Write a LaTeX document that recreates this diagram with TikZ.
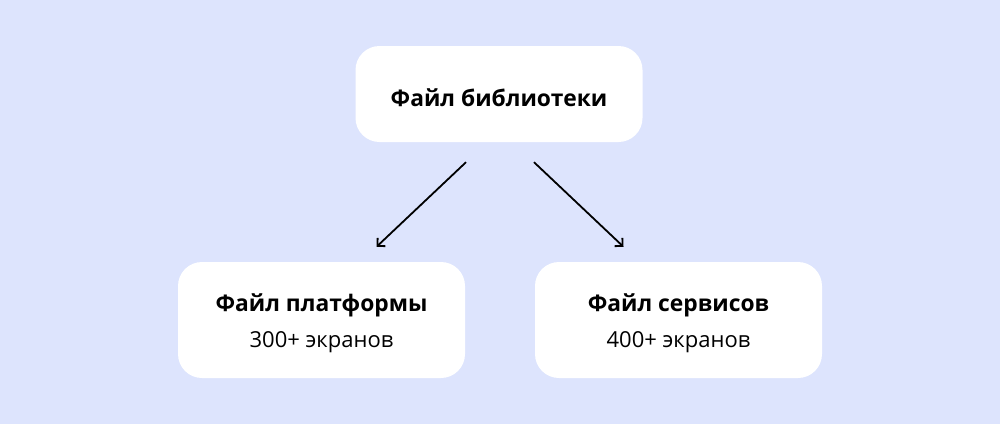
\documentclass[tikz,border=0pt]{standalone}
\usepackage{fontspec}
\setmainfont{Open Sans}
\usetikzlibrary{arrows.meta,positioning}

\definecolor{bgblue}{HTML}{DDE4FD}

\tikzset{
    card/.style={fill=white, rounded corners=24pt, inner sep=0pt},
    title/.style={anchor=base, font=\fontsize{22.8}{26}\selectfont\bfseries},
    count/.style={anchor=base, font=\fontsize{22}{26}\selectfont},
    link/.style={-{Straight Barb[angle=90:8pt]}, line width=1.8pt, black}
}

\begin{document}
\begin{tikzpicture}[x=1pt, y=-1pt]
    % background
    \fill[bgblue] (0,0) rectangle (1000,424);
    \useasboundingbox (0,0) rectangle (1000,424);

    % Library file
    \node[card, minimum width=287pt, minimum height=96pt] (lib) at (499,94) {};
    \node[title] (libtext) at (499,106) {Файл библиотеки};

    % Platform file
    \node[card, minimum width=287pt, minimum height=116pt] (plat) at (321.5,320) {};
    \node[title] (plattitle) at (321.5,311) {Файл платформы};
    \node[count] (platnum) at (321.5,347) {300+ экранов};

    % Services file
    \node[card, minimum width=287pt, minimum height=116pt] (serv) at (678.5,320) {};
    \node[title] (servtitle) at (678.5,311) {Файл сервисов};
    \node[count] (servnum) at (678.5,347) {400+ экранов};

    % arrow ends
    \coordinate (lout) at ([xshift=-33pt, yshift=-20pt]lib.south);
    \coordinate (rout) at ([xshift=35pt, yshift=-20pt]lib.south);
    \coordinate (lin) at ([xshift=55pt, yshift=15pt]plat.north);
    \coordinate (rin) at ([xshift=-55pt, yshift=15pt]serv.north);

    \draw[link] (lout) -- (lin);
    \draw[link] (rout) -- (rin);
\end{tikzpicture}
\end{document}
